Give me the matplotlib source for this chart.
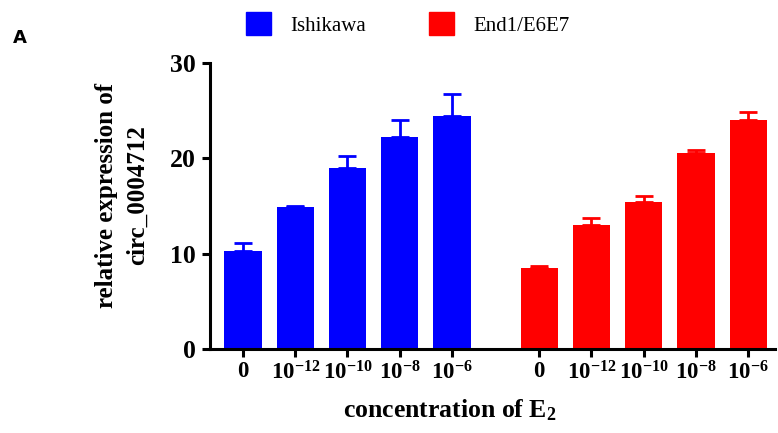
import matplotlib
matplotlib.use("Agg")
import matplotlib.pyplot as plt
from matplotlib.patches import Patch

plt.rcParams["font.family"] = "Liberation Serif"
plt.rcParams["mathtext.fontset"] = "custom"
plt.rcParams["mathtext.rm"] = "Liberation Serif:bold"
plt.rcParams["mathtext.bf"] = "Liberation Serif:bold"
plt.rcParams["mathtext.it"] = "Liberation Serif:bold"

# data
concentrations = ["0", r"$\mathbf{10^{-12}}$", r"$\mathbf{10^{-10}}$",
                  r"$\mathbf{10^{-8}}$", r"$\mathbf{10^{-6}}$"]
ishikawa_mean = [10.3, 14.9, 18.95, 22.2, 24.4]
ishikawa_err = [0.85, 0.08, 1.3, 1.8, 2.35]
end1_mean = [8.45, 13.0, 15.4, 20.5, 24.0]
end1_err = [0.3, 0.7, 0.65, 0.35, 0.85]

blue = "#0000ff"
red = "#ff0000"
gap = 5.67

fig = plt.figure(figsize=(7.78, 4.33), dpi=100)
ax = fig.add_axes([0.27, 0.194, 0.726, 0.661])

xb = list(range(len(ishikawa_mean)))
xr = [i + gap for i in xb]

ax.bar(xb, ishikawa_mean, width=0.71, color=blue)
ax.errorbar(xb, ishikawa_mean, yerr=[[0] * 5, ishikawa_err], fmt="none",
            ecolor=blue, elinewidth=2, capsize=6.5, capthick=2)
ax.bar(xr, end1_mean, width=0.71, color=red)
ax.errorbar(xr, end1_mean, yerr=[[0] * 5, end1_err], fmt="none",
            ecolor=red, elinewidth=2, capsize=6.5, capthick=2)

ax.set_xlim(-0.63, 10.18)
ax.set_ylim(0, 30)
ax.set_yticks([0, 10, 20, 30])
ax.set_xticks(xb + xr)
ax.set_xticklabels(concentrations + concentrations)

for side in ["top", "right"]:
    ax.spines[side].set_visible(False)
for side in ["left", "bottom"]:
    ax.spines[side].set_linewidth(2.2)
ax.tick_params(width=2.2, length=6, pad=4)
ax.tick_params(axis="y", labelsize=18.5)
ax.tick_params(axis="x", labelsize=16.5, pad=3)
for lab in ax.get_yticklabels() + ax.get_xticklabels():
    lab.set_fontweight("bold")

fig.text(122 / 778, 1 - 195.5 / 433, "relative expression of\ncirc_0004712",
         rotation=90, ha="center", va="center", multialignment="center",
         fontsize=18, fontweight="bold", linespacing=1.4)
ax.set_xlabel(r"concentration of E$_\mathbf{2}$", fontsize=18.5,
              fontweight="bold")
ax.xaxis.set_label_coords(0.425, -0.17)

handles = [Patch(color=blue, label="Ishikawa"), Patch(color=red, label="End1/E6E7")]
fig.legend(handles=handles, loc="upper center", bbox_to_anchor=(0.524, 1.015),
           ncol=2, frameon=False, fontsize=15, handlelength=1.2,
           handleheight=1.3, columnspacing=3.0, handletextpad=0.95)

fig.text(0.016, 0.9, "A", fontsize=13, fontweight="bold",
         family="DejaVu Sans")

fig.savefig("out.png", dpi=100)
